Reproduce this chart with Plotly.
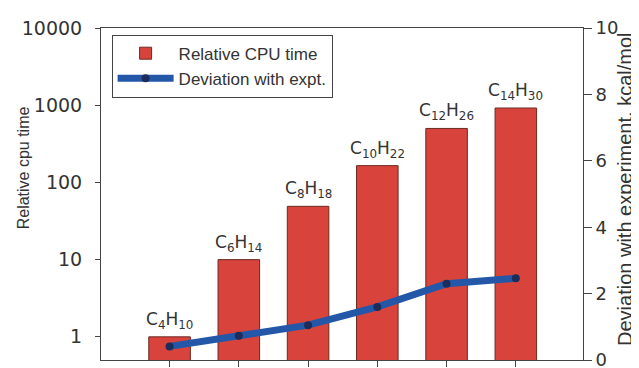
import math
import plotly.graph_objects as go

# Data
molecules = ["C<sub>4</sub>H<sub>10</sub>", "C<sub>6</sub>H<sub>14</sub>", "C<sub>8</sub>H<sub>18</sub>",
             "C<sub>10</sub>H<sub>22</sub>", "C<sub>12</sub>H<sub>26</sub>", "C<sub>14</sub>H<sub>30</sub>"]
positions = [0, 1, 2, 3, 4, 5]
cpu_time = [1, 10, 49, 165, 500, 920]
deviation = [0.41, 0.73, 1.05, 1.6, 2.3, 2.46]
left_ticks = [1, 10, 100, 1000, 10000]
left_ticktext = ["1", "10", "100", "1000", "10000"]
right_ticks = [0, 2, 4, 6, 8, 10]

TXT = "#333333"
AX = "#444444"

fig = go.Figure()
fig.add_trace(go.Bar(
    x=positions, y=cpu_time, width=0.6, name="Relative CPU time",
    marker=dict(color="#d8443c", line=dict(color="#6a2a22", width=1)),
    yaxis="y",
))
fig.add_trace(go.Scatter(
    x=positions, y=deviation, name="Deviation with expt.",
    mode="lines+markers",
    line=dict(color="#2457a8", width=7),
    marker=dict(color="#1c2d5c", size=8),
    yaxis="y2",
))

for xi, label, v in zip(positions, molecules, cpu_time):
    fig.add_annotation(x=xi, y=math.log10(v), xref="x", yref="y", text=label,
                       showarrow=False, yanchor="bottom", yshift=3,
                       font=dict(family="DejaVu Sans", size=17, color=TXT))

fig.add_annotation(text="Relative cpu time", xref="paper", yref="paper",
                   x=-0.16, y=0.58, textangle=-90, showarrow=False,
                   xanchor="center", yanchor="middle",
                   font=dict(family="Liberation Sans", size=16, color=TXT))
fig.add_annotation(text="Deviation with experiment, kcal/mol", xref="paper", yref="paper",
                   x=1.087, y=0.515, textangle=-90, showarrow=False,
                   xanchor="center", yanchor="middle",
                   font=dict(family="Liberation Sans", size=20, color=TXT))

fig.update_layout(
    width=639, height=368,
    margin=dict(l=93, r=64, t=20, b=6),
    plot_bgcolor="white", paper_bgcolor="white",
    font=dict(family="DejaVu Sans", color=TXT),
    showlegend=True,
    legend=dict(x=0.022, y=0.98, xanchor="left", yanchor="top",
                bgcolor="white", bordercolor=AX, borderwidth=1,
                font=dict(family="Liberation Sans", size=17, color=TXT),
                itemwidth=56),
    bargap=0.4,
    xaxis=dict(range=[-0.99, 5.97], tickvals=positions, showticklabels=False,
               ticks="outside", ticklen=6, tickcolor=AX,
               showline=True, linecolor=AX, linewidth=1, mirror=True,
               showgrid=False, zeroline=False, fixedrange=True),
    yaxis=dict(type="log", range=[-0.3, 4], tickvals=left_ticks, ticktext=left_ticktext,
               ticks="outside", ticklen=5, tickcolor=AX, ticklabelstandoff=9,
               tickfont=dict(family="DejaVu Sans", size=19, color=TXT),
               showline=True, linecolor=AX, linewidth=1,
               showgrid=False, zeroline=False),
    yaxis2=dict(overlaying="y", side="right", range=[0, 10], tickvals=right_ticks,
                ticks="outside", ticklen=8, tickcolor=AX,
                tickfont=dict(family="DejaVu Sans", size=18, color=TXT),
                showline=True, linecolor=AX, linewidth=1,
                showgrid=False, zeroline=False),
)

fig.write_html("out.html")
